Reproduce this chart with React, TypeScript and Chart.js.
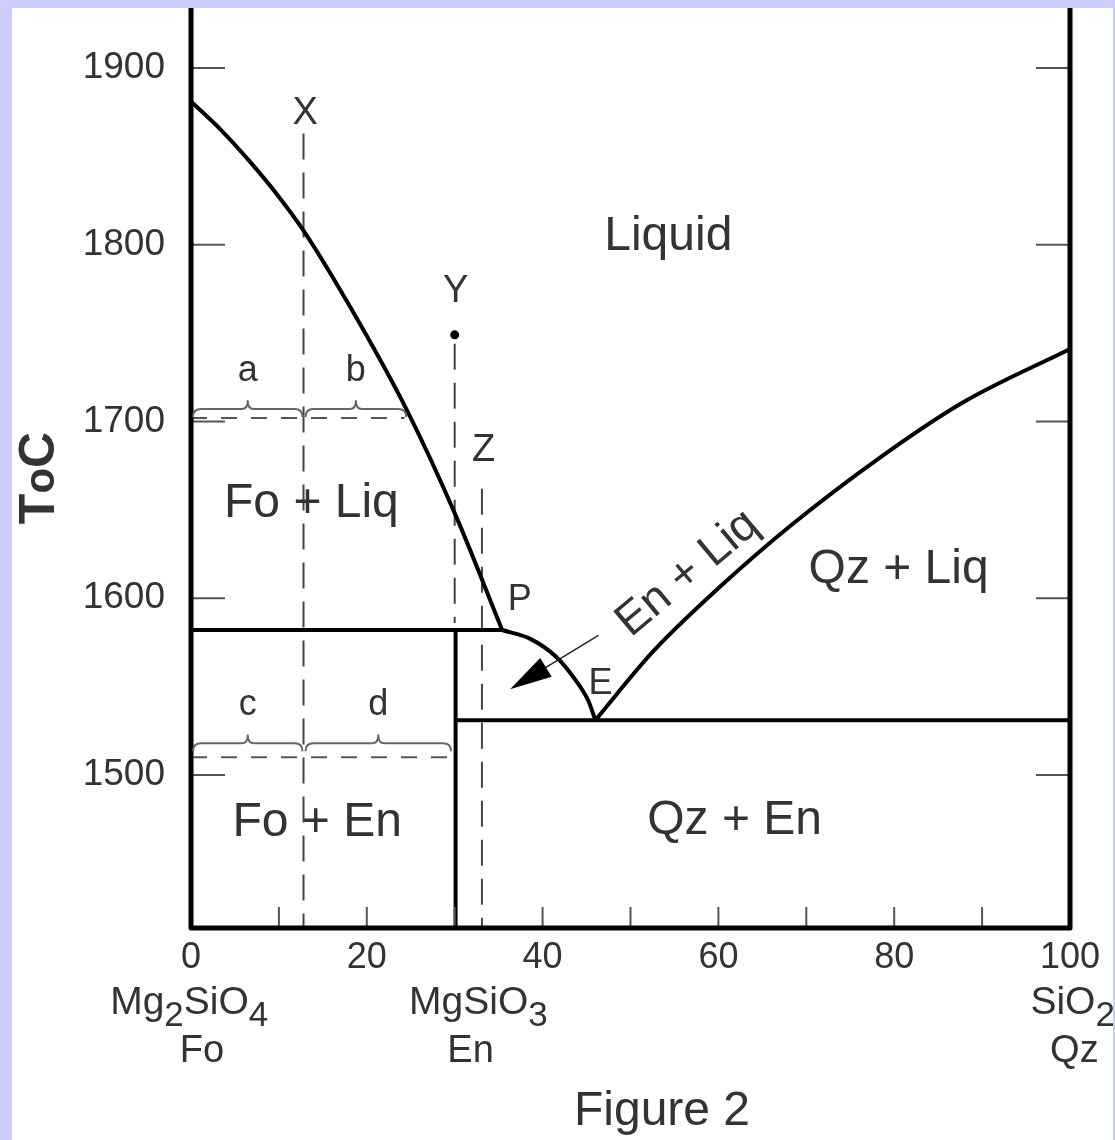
import React, { useEffect, useRef } from 'react';
import { Chart, registerables } from 'chart.js';

Chart.register(...registerables);

// ---------- axis ticks ----------
const xTickValues = [0, 20, 40, 60, 80, 100];
const xMinorTicks = [10, 20, 30, 40, 50, 60, 70, 80, 90];
const yTickValues = [1500, 1600, 1700, 1800, 1900];

// ---------- phase boundaries (wt% SiO2, T in °C) ----------
const foLiquidusX = [0, 3.4, 6.7, 9.7, 12.8, 18.2, 24.6, 30.1, 35.4];
const foLiquidusT = [1881, 1865, 1847, 1829, 1808, 1764, 1706, 1647, 1582];
const enLiquidusX = [35.4, 38.6, 41.5, 43.7, 45.2, 46.0];
const enLiquidusT = [1582, 1577, 1567, 1554, 1542, 1531];
const qzLiquidusX = [46.0, 52.6, 60.3, 68.2, 78.5, 87.9, 100];
const qzLiquidusT = [1531, 1570, 1607, 1641, 1680, 1711, 1741];
const peritecticX = [0, 35.4];
const peritecticT = [1582, 1582];
const eutecticX = [30.1, 100];
const eutecticT = [1531, 1531];
const enSolidusX = [30.1, 30.1];
const enSolidusT = [1582, 1413];

// ---------- isopleths & tie lines ----------
const isoplethXX = [12.8, 12.8];
const isoplethXT = [1863, 1413];
const isoplethYX = [30.0, 30.0];
const isoplethYT = [1744, 1586];
const isoplethZX = [33.1, 33.1];
const isoplethZT = [1662, 1413];
const pointYX = [30.0];
const pointYT = [1749];
const upperTieX = [0, 24.3];
const upperTieT = [1702, 1702];
const lowerTieX = [0, 29.7];
const lowerTieT = [1510, 1510];

// ---------- braces ----------
const braceLabels = ['a', 'b', 'c', 'd'];
const braceStartX = [0, 12.8, 0, 12.8];
const braceEndX = [12.8, 24.6, 12.8, 29.7];
const braceT = [1707, 1707, 1518, 1518];

// ---------- arrow (En + Liq) ----------
const arrowFrom = [46.35, 1579];
const arrowTo = [36.3, 1548.5];

// ---------- text labels ----------
const regionLabels = ['Liquid', 'Fo + Liq', 'Fo + En', 'Qz + Liq', 'Qz + En', 'En + Liq', 'P', 'E', 'X', 'Y', 'Z'];
const regionLabelX = [54.3, 13.7, 14.35, 80.5, 61.85, 56.5, 37.4, 46.6, 13.0, 30.1, 33.3];
const regionLabelT = [1804.7, 1653.3, 1473.1, 1616.1, 1474.2, 1613.9, 1599.2, 1551.4, 1874, 1773.8, 1683.7];
const regionLabelSize = [48, 48, 48, 48, 48, 46, 36, 36, 38, 38, 38];
const regionLabelAngle = [0, 0, 0, 0, 0, -40, 0, 0, 0, 0, 0];

const endMemberFormulas = ['Mg_2SiO_4', 'MgSiO_3', 'SiO_2'];
const endMemberFormulaX = [-0.2, 32.7, 100.3];
const endMemberNames = ['Fo', 'En', 'Qz'];
const endMemberNameX = [1.25, 31.8, 100.5];

const yAxisTitle = ['T', 'o', 'C'];
const figureCaption = 'Figure 2';

const FONT = '"Liberation Sans", Arial, Helvetica, sans-serif';
const TEXT = '#333';

function line(xs: number[], ts: number[], extra: any = {}) {
  return {
    data: xs.map((v, i) => ({ x: v, y: ts[i] })),
    showLine: true,
    pointRadius: 0,
    borderColor: '#000',
    borderWidth: 4,
    fill: false,
    ...extra,
  };
}

const decorPlugin = {
  id: 'decor',
  afterDatasetsDraw(chart: any) {
    const { ctx, chartArea: a, scales } = chart;
    const px = (v: number) => scales.x.getPixelForValue(v);
    const py = (v: number) => scales.y.getPixelForValue(v);
    ctx.save();

    // inward tick marks
    ctx.strokeStyle = '#555';
    ctx.lineWidth = 2;
    ctx.beginPath();
    for (const v of yTickValues) {
      const yy = py(v);
      ctx.moveTo(a.left, yy);
      ctx.lineTo(a.left + 34, yy);
      ctx.moveTo(a.right - 34, yy);
      ctx.lineTo(a.right, yy);
    }
    for (const v of xMinorTicks) {
      const xx = px(v);
      ctx.moveTo(xx, a.bottom);
      ctx.lineTo(xx, a.bottom - 21);
    }
    ctx.stroke();

    // frame (left, bottom, right)
    ctx.strokeStyle = '#000';
    ctx.lineWidth = 5;
    ctx.lineJoin = 'round';
    ctx.beginPath();
    ctx.moveTo(a.left, 0);
    ctx.lineTo(a.left, a.bottom);
    ctx.lineTo(a.right, a.bottom);
    ctx.lineTo(a.right, 0);
    ctx.stroke();

    // braces
    ctx.strokeStyle = '#666';
    ctx.lineWidth = 2;
    ctx.fillStyle = TEXT;
    ctx.textAlign = 'center';
    ctx.textBaseline = 'middle';
    ctx.font = `36px ${FONT}`;
    braceLabels.forEach((lab, i) => {
      const x0 = px(braceStartX[i]) + 2;
      const x1 = px(braceEndX[i]) - 1;
      const yb = py(braceT[i]);
      const xm = (x0 + x1) / 2;
      const h = 8;
      ctx.beginPath();
      ctx.moveTo(x0, yb + h);
      ctx.quadraticCurveTo(x0, yb, x0 + h, yb);
      ctx.lineTo(xm - 6, yb);
      ctx.quadraticCurveTo(xm, yb, xm, yb - h);
      ctx.quadraticCurveTo(xm, yb, xm + 6, yb);
      ctx.lineTo(x1 - h, yb);
      ctx.quadraticCurveTo(x1, yb, x1, yb + h);
      ctx.stroke();
      ctx.fillText(lab, xm, yb - 38);
    });

    // arrow
    const ax0 = px(arrowFrom[0]), ay0 = py(arrowFrom[1]);
    const ax1 = px(arrowTo[0]), ay1 = py(arrowTo[1]);
    const ang = Math.atan2(ay1 - ay0, ax1 - ax0);
    ctx.strokeStyle = '#222';
    ctx.lineWidth = 1.5;
    ctx.beginPath();
    ctx.moveTo(ax0, ay0);
    ctx.lineTo(ax1 - 30 * Math.cos(ang), ay1 - 30 * Math.sin(ang));
    ctx.stroke();
    const hl = 42, hw = 11;
    const bx = ax1 - hl * Math.cos(ang), by = ay1 - hl * Math.sin(ang);
    ctx.fillStyle = '#000';
    ctx.beginPath();
    ctx.moveTo(ax1, ay1);
    ctx.lineTo(bx + hw * Math.sin(ang), by - hw * Math.cos(ang));
    ctx.lineTo(bx - hw * Math.sin(ang), by + hw * Math.cos(ang));
    ctx.closePath();
    ctx.fill();

    // region & point labels
    ctx.fillStyle = TEXT;
    regionLabels.forEach((t, i) => {
      ctx.save();
      ctx.translate(px(regionLabelX[i]), py(regionLabelT[i]));
      ctx.rotate((regionLabelAngle[i] * Math.PI) / 180);
      ctx.font = `${regionLabelSize[i]}px ${FONT}`;
      ctx.textAlign = 'center';
      ctx.textBaseline = 'middle';
      ctx.fillText(t, 0, 0);
      ctx.restore();
    });

    // end-member formulas with subscripts
    const mainF = `39px ${FONT}`;
    const subF = `35px ${FONT}`;
    const formulaY = 995;
    endMemberFormulas.forEach((f, i) => {
      const parts: [string, boolean][] = [];
      const re = /_(\d)|([^_]+?)(?=_|$)/g;
      let m: any;
      while ((m = re.exec(f)) !== null) {
        if (m[1]) parts.push([m[1], true]);
        else parts.push([m[2], false]);
      }
      let total = 0;
      parts.forEach(([s, sub]) => {
        ctx.font = sub ? subF : mainF;
        total += ctx.measureText(s).width;
      });
      let cx = px(endMemberFormulaX[i]) - total / 2;
      ctx.textAlign = 'left';
      ctx.textBaseline = 'middle';
      parts.forEach(([s, sub]) => {
        ctx.font = sub ? subF : mainF;
        ctx.fillText(s, cx, formulaY + (sub ? 13 : 0));
        cx += ctx.measureText(s).width;
      });
      ctx.font = `38px ${FONT}`;
      ctx.textAlign = 'center';
      ctx.fillText(endMemberNames[i], px(endMemberNameX[i]), 1044);
    });

    // y-axis title (rotated)
    ctx.save();
    ctx.translate(24, 470);
    ctx.rotate(-Math.PI / 2);
    const fonts = [`bold 50px ${FONT}`, `bold 42px ${FONT}`, `bold 50px ${FONT}`];
    let w = 0;
    yAxisTitle.forEach((s, i) => {
      ctx.font = fonts[i];
      w += ctx.measureText(s).width;
    });
    let tx = -w / 2;
    ctx.textAlign = 'left';
    ctx.textBaseline = 'alphabetic';
    yAxisTitle.forEach((s, i) => {
      ctx.font = fonts[i];
      ctx.fillText(s, tx, 18);
      tx += ctx.measureText(s).width;
    });
    ctx.restore();

    // caption
    ctx.font = `48px ${FONT}`;
    ctx.textAlign = 'center';
    ctx.textBaseline = 'middle';
    ctx.fillText(figureCaption, 650, 1104);

    ctx.restore();
  },
};

export default function App() {
  const ref = useRef<HTMLCanvasElement>(null);
  useEffect(() => {
    const canvas = ref.current;
    if (!canvas) return;
    const dashed = { borderDash: [26, 13], borderWidth: 2, borderColor: '#444' };
    const dashedH = { borderDash: [16, 14], borderWidth: 2, borderColor: '#555' };
    const noPad = (s: any) => {
      s.paddingTop = 0;
      s.paddingBottom = 0;
      s.paddingLeft = 0;
      s.paddingRight = 0;
    };
    const chart = new Chart(canvas, {
      type: 'scatter',
      data: {
        datasets: [
          line(foLiquidusX, foLiquidusT, { cubicInterpolationMode: 'monotone' }),
          line(enLiquidusX, enLiquidusT, { cubicInterpolationMode: 'monotone' }),
          line(qzLiquidusX, qzLiquidusT, { cubicInterpolationMode: 'monotone' }),
          line(peritecticX, peritecticT),
          line(eutecticX, eutecticT),
          line(enSolidusX, enSolidusT),
          line(isoplethXX, isoplethXT, dashed),
          line(isoplethYX, isoplethYT, dashed),
          line(isoplethZX, isoplethZT, dashed),
          line(upperTieX, upperTieT, dashedH),
          line(lowerTieX, lowerTieT, dashedH),
          {
            data: pointYX.map((v, i) => ({ x: v, y: pointYT[i] })),
            showLine: false,
            pointRadius: 4.5,
            pointBackgroundColor: '#000',
            pointBorderWidth: 0,
          },
        ],
      } as any,
      options: {
        animation: false,
        responsive: false,
        layout: { padding: { left: 0, right: 43, top: 0, bottom: 0 } },
        plugins: { legend: { display: false }, tooltip: { enabled: false } },
        scales: {
          x: {
            type: 'linear',
            min: 0,
            max: 100,
            grid: { display: false, drawTicks: false },
            border: { display: false },
            afterBuildTicks: (s: any) => {
              s.ticks = xTickValues.map((v) => ({ value: v }));
            },
            afterFit: (s: any) => {
              s.height = 212;
              noPad(s);
            },
            ticks: {
              autoSkip: false,
              maxRotation: 0,
              padding: 8,
              color: TEXT,
              font: { family: FONT, size: 36 },
              callback: (v: any) => String(v),
            },
          },
          y: {
            type: 'linear',
            min: 1413.4,
            max: 1931.4,
            grid: { display: false, drawTicks: false },
            border: { display: false },
            afterBuildTicks: (s: any) => {
              s.ticks = yTickValues.map((v) => ({ value: v }));
            },
            afterFit: (s: any) => {
              s.width = 179;
              noPad(s);
            },
            ticks: {
              autoSkip: false,
              padding: 26,
              color: TEXT,
              font: { family: FONT, size: 37 },
              callback: (v: any) => String(v),
            },
          },
        },
      } as any,
      plugins: [decorPlugin],
    });
    return () => chart.destroy();
  }, []);

  return (
    <div style={{ position: 'fixed', left: 0, top: 0, width: 1115, height: 1140, background: '#ccccff' }}>
      <div style={{ position: 'absolute', left: 12, top: 8, width: 1101, height: 1132, background: '#ffffff' }}>
        <canvas ref={ref} width={1101} height={1132} style={{ display: 'block', width: 1101, height: 1132 }} />
      </div>
    </div>
  );
}
